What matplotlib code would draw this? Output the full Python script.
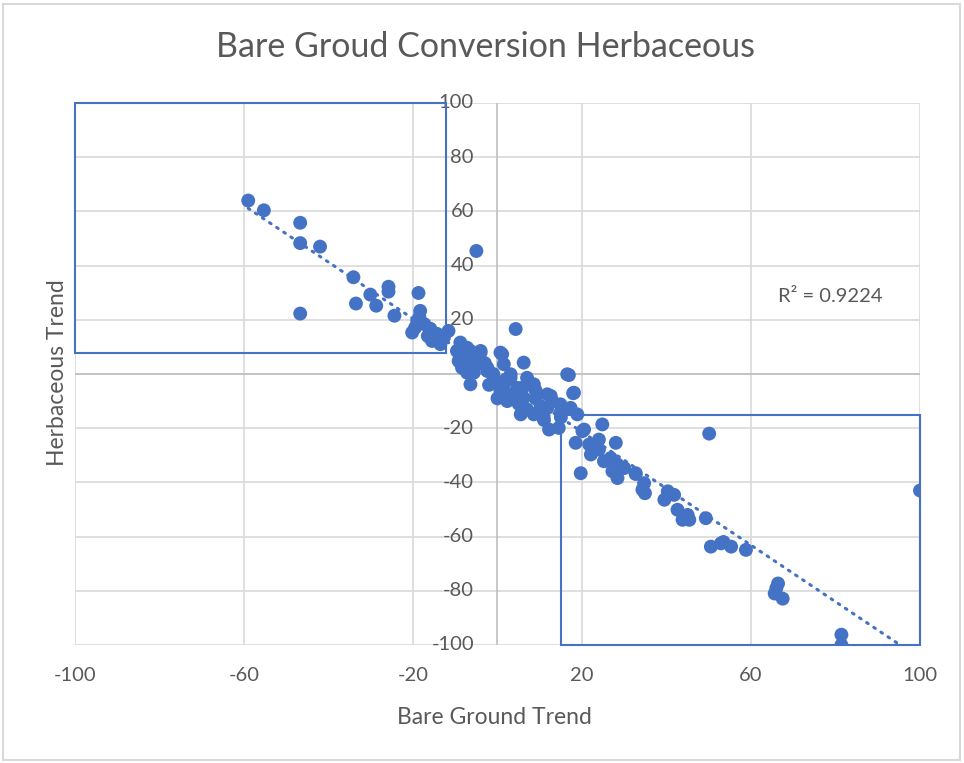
import numpy as np
import matplotlib
matplotlib.use("Agg")
import matplotlib.pyplot as plt
from matplotlib.patches import Rectangle

plt.rcParams['font.family'] = ['Lato', 'DejaVu Sans']

title = "Bare Groud Conversion Herbaceous"
x_label = "Bare Ground Trend"
y_label = "Herbaceous Trend"
r2_text = "R² = 0.9224"

x_ticks = [-100, -60, -20, 20, 60, 100]
y_ticks = [-100, -80, -60, -40, -20, 0, 20, 40, 60, 80, 100]

bare_ground = [
    -59, -55.3, -46.7, -46.7, -42, -46.7, -34.1, -33.5, -30.1, -28.7, -25.8, -25.8,
    -24.4, -18.7, -18.3, -5,
    -20.2, -19.5, -19, -17.3, -15.9, -14.3, -15.5, -13.5, -11.6, -12.7, -18.5, -16.5,
    -8.8, -9.6, -7.2, -4, -9.2, -8.4, -6.4, -5.6, -4.8, -2.4, 0.7, 1.5, 4.3, 6.2,
    -0.9, 3.1, 0.7, 7, 8.6, 11.8,
    -6.4, -4, 1.1, 16.5, 18.1, -7.2, -2.4, -0.9, 1.5, 3.1, 4.7, 7.8, 6.2, 2.3, 5.5,
    8.6, 10.2, 12.6, 11.8, 14.9, 14.9, 17.3, 18.9, 12.2, 14.5, 20.5, 7, 10.9,
    -8, -6, -3, -1, 2, 4, 6, 9, 3, -2, 0, 5, 9, 13, 15, 11,
    24.8, 20.1, 18.5, 21.7, 24, 28, 22.1, 24, 25.2, 26.8, 28.4, 27.2, 29.2, 19.7,
    28.4, 32.7, 34.7, 34.3, 30, 40.3, 39.5, 41.8, 42.6, 43.8, 45.4, 45, 49.3,
    50.5, 52.9, 55.3, 58.8, 66.4, 65.6, 67.5, 81.4, 81.4, 100, 50.1, 16.9, 17.9,
    34.9, 32.7, 53.5, 66,
]
herbaceous = [
    64, 60.4, 55.8, 48.3, 47, 22.3, 35.7, 26, 29.3, 25.2, 32.2, 30.4,
    21.5, 29.9, 23.3, 45.4,
    15.3, 17.1, 19.6, 18.4, 16.7, 14.8, 12.2, 11, 15.9, 13.4, 21, 14,
    11.6, 8.5, 9.7, 7.9, 4.8, 2.3, -3.8, 0.5, 3.6, 1.1, 7.9, 3.6, 16.6, 4.2,
    -2.6, -1.4, -6.3, -1.4, -3.8, -7.5,
    8.5, 8.5, 7.3, -0.1, -6.9, 0.5, 2.3, -1.4, -3.8, -0.1, -5.1, -3.8, -8.8, -10, -14.9,
    -14.9, -11.9, -8.1, -12.5, -11.2, -14.3, -12.5, -14.9, -20.5, -19.9, -20.5, -13.1, -15.6,
    6, 5, 4, 0, -2, -7, -5, -9, -8, -4, -9, -11, -6, -10, -16, -17,
    -18.6, -21.1, -25.4, -26, -24.2, -25.4, -29.7, -27.9, -32.2, -31, -33.4, -35.9, -34.7, -36.6,
    -38.4, -36.6, -40.3, -42.7, -34.7, -43.3, -46.4, -44.6, -50.1, -53.8, -53.8, -52, -53.2,
    -63.7, -62.5, -63.7, -64.9, -77.3, -81, -82.9, -96.2, -100, -43, -22, -0.4, -7.1,
    -44, -36.9, -62, -79,
]

# highlight boxes: (x0, y0, x1, y1)
box_upper_left = (-100, 7.9, -12.3, 100)
box_lower_right = (15.1, -100, 100, -15.2)

blue = '#4472C4'
text_col = '#595959'
grid_col = '#d9d9d9'

fig = plt.figure(figsize=(9.64, 7.63), dpi=100)
ax = fig.add_axes([75/964, 1-645/763, (920-75)/964, (645-103)/763])

ax.set_xlim(-100, 100)
ax.set_ylim(-100, 100)
ax.set_xticks(x_ticks)
ax.set_yticks(y_ticks)
ax.set_xticklabels([str(v) for v in x_ticks])
ax.set_yticklabels([])
ax.tick_params(length=0, labelsize=14.5, colors=text_col, pad=16)
ax.tick_params(axis='y', length=0)
ax.grid(True, color=grid_col, lw=1.2)
ax.set_axisbelow(True)
for s in ax.spines.values():
    s.set_visible(False)
ax.axhline(0, color='#bfbfbf', lw=1.2, zorder=1)
ax.axvline(0, color='#bfbfbf', lw=1.2, zorder=1)

for v in y_ticks:
    ax.annotate(str(v), xy=(0, v), xytext=(-17, 0), textcoords='offset points',
                ha='right', va='center', fontsize=14.5, color=text_col, zorder=2)

ax.scatter(bare_ground, herbaceous, s=100, color=blue, edgecolors='none', zorder=3)

xs = np.array(bare_ground)
ys = np.array(herbaceous)
m, b = np.polyfit(xs, ys, 1)
xl = np.array([xs.min(), xs.max()])
ax.plot(xl, m*xl + b, color=blue, lw=2.2, linestyle=(0, (0.6, 2.2)),
        dash_capstyle='round', zorder=4)

for (x0, y0, x1, y1) in (box_upper_left, box_lower_right):
    ax.add_patch(Rectangle((x0, y0), x1-x0, y1-y0, fill=False, ec=blue, lw=1.5,
                           zorder=5, clip_on=False))

ax.text(78.8, 28.5, r2_text, ha='center', va='center', fontsize=14.5, color=text_col)

fig.text(485/964, 1-47/763, title, ha='center', va='center', fontsize=24.5, color=text_col)
fig.text(494/964, 1-718/763, x_label, ha='center', va='center', fontsize=16.5, color=text_col)
fig.text(58/964, 1-373/763, y_label, ha='center', va='center', fontsize=16.5, color=text_col,
         rotation=90)

fig.add_artist(Rectangle((3/964, 3/763), 957/964, 756/763, transform=fig.transFigure,
                         fill=False, ec='#d9d9d9', lw=1.5))

fig.savefig('out.png', dpi=100)
